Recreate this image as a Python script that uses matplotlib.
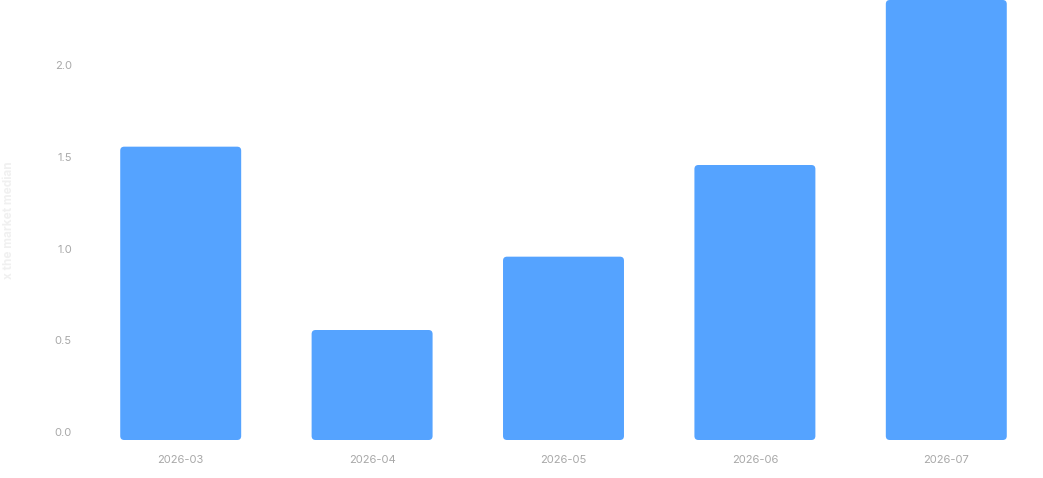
import matplotlib
matplotlib.use("Agg")
import matplotlib.pyplot as plt
from matplotlib.patches import FancyBboxPatch
from matplotlib.transforms import ScaledTranslation

plt.rcParams['font.family'] = ['Inter', 'DejaVu Sans']

categories = ["2026-03", "2026-04", "2026-05", "2026-06", "2026-07"]
values = [1.6, 0.6, 1.0, 1.5, 2.4]
yticks = [0.0, 0.5, 1.0, 1.5, 2.0]
ytick_labels = ["0.0", "0.5", "1.0", "1.5", "2.0"]
ylabel = "x the market median"

bar_color = "#55a3ff"
tick_color = "#a8a8a8"

fig = plt.figure(figsize=(10.43, 4.78), dpi=100)
ax = fig.add_axes([85 / 1043, 38 / 478, (1042 - 85) / 1043, 440 / 478])

width = 0.632
xs = list(range(len(categories)))
bars = ax.bar(xs, values, width=width, color=bar_color, alpha=0)

ax.set_xlim(-0.5, len(categories) - 0.5)
ax.set_ylim(0, 2.4)

# rounded bars built from bar geometry
px_x = (1042 - 85) / len(categories)
px_y = 440 / 2.4
r = 4 / px_x
for b in bars:
    p = FancyBboxPatch((b.get_x(), b.get_y()), b.get_width(), b.get_height(),
                       boxstyle=f"round,pad=0,rounding_size={r}",
                       mutation_aspect=px_x / px_y,
                       facecolor=bar_color, edgecolor="none", clip_on=False)
    ax.add_patch(p)

for s in ax.spines.values():
    s.set_visible(False)

ax.set_xticks(xs)
ax.set_xticklabels(categories)
ax.set_yticks(yticks)
ax.set_yticklabels(ytick_labels)
ax.tick_params(axis='both', length=0, colors=tick_color, labelsize=8)
ax.tick_params(axis='x', pad=11)
ax.tick_params(axis='y', pad=9.5)

offset = ScaledTranslation(0, 8 / 100, fig.dpi_scale_trans)
for lbl in ax.get_yticklabels():
    lbl.set_transform(lbl.get_transform() + offset)

fig.text(9 / 1043, 1 - 220 / 478, ylabel, rotation=90, ha='center', va='center',
         color="#f0f0f0", fontsize=8.5, fontweight='bold')

fig.savefig("out.png", dpi=100)
